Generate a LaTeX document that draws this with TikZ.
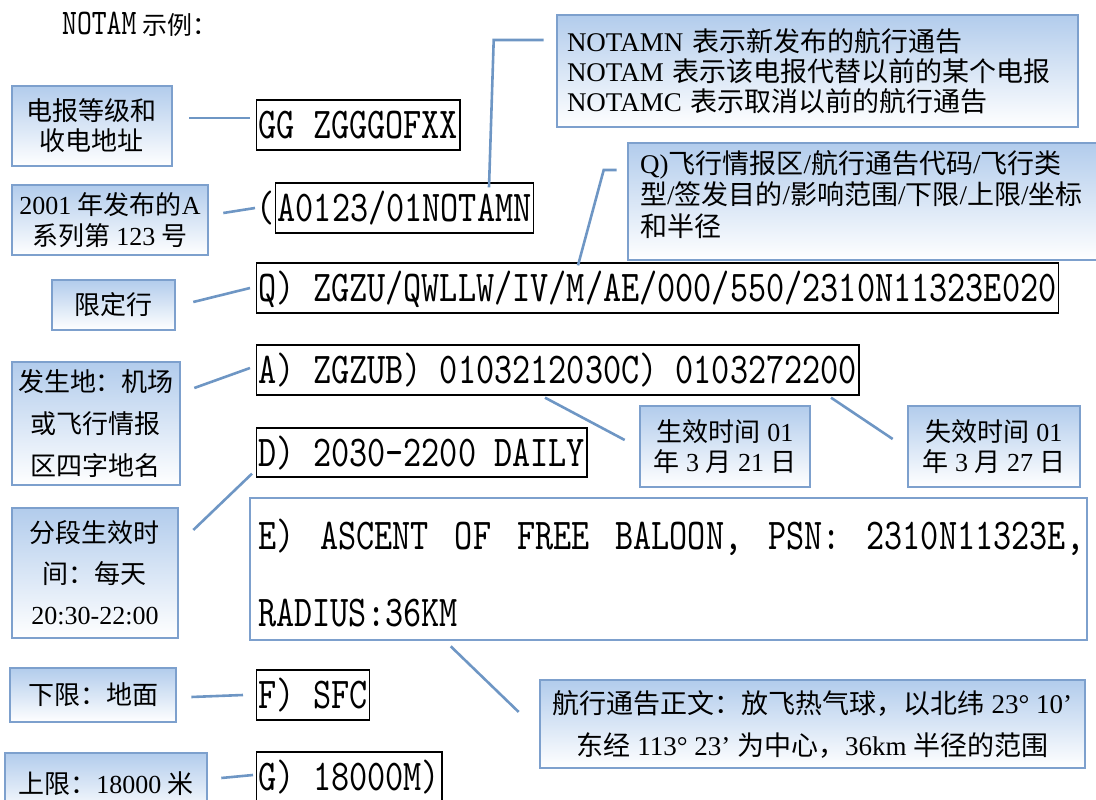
\documentclass[tikz,border=0pt]{standalone}
\usepackage{fontspec}
\setmainfont{Liberation Serif}
\newfontfamily\cjk{Noto Sans CJK SC}
\newfontfamily\codefont{lmmono10-regular}[Extension=.otf,FakeStretch=0.785]
\newcommand\zhs[1]{{\cjk #1}}
\definecolor{boxborder}{RGB}{125,160,205}
\definecolor{gradtop}{RGB}{178,204,236}
\definecolor{connblue}{RGB}{110,150,196}
\begin{document}
\begin{tikzpicture}[x=1pt,y=-1pt,
 bluebox/.style={draw=boxborder, line width=2.6pt, top color=gradtop, bottom color=white, inner sep=0pt, align=center, font=\fontsize{26}{30}\selectfont},
 codebox/.style={draw=black, line width=1.3pt, inner xsep=2pt, inner ysep=0pt, minimum height=50pt, text height=27pt, text depth=0pt, anchor=west, font=\codefont\fontsize{44}{50}\selectfont},
 codetext/.style={inner sep=0pt, text height=27pt, text depth=0pt, anchor=west, font=\codefont\fontsize{44}{50}\selectfont},
 conn/.style={draw=connblue, line width=2.6pt},
]
\useasboundingbox (0,0) rectangle (1096,800);

% title
\node[anchor=west, inner sep=0pt] (title) at (62,24) {{\codefont\fontsize{36}{36}\selectfont NOTAM}\hspace{6pt}{\cjk\fontsize{25}{25}\selectfont 示例：}};

% code boxes
\node[codebox] (gg) at (256,125) {GG ZGGGOFXX};
\node[codebox] (notamn) at (275,208) {A0123/01NOTAMN};
\node[codetext, anchor=east] (paren) at (notamn.west) {(};
\node[codebox] (q) at (256,288) {Q) ZGZU/QWLLW/IV/M/AE/000/550/2310N11323E020};
\node[codebox] (aline) at (256,370) {A) ZGZUB) 0103212030C) 0103272200};
\node[codebox, minimum height=49pt] (d) at (256,452.5) {D) 2030-2200 DAILY};
\node[draw=boxborder, line width=2.6pt, minimum width=837pt, minimum height=142pt, inner sep=0pt] (ebox) at (668.5,569) {};
\node[codetext] (e1) at (258,536) {\makebox[826pt][l]{E)\hfill ASCENT\hfill OF\hfill FREE\hfill BALOON,\hfill PSN:\hfill 2310N11323E,}};
\node[codetext] (e2) at (258,613) {RADIUS:36KM};
\node[codebox] (f) at (256,695) {F) SFC};
\node[codebox] (g) at (256,777) {G) 18000M)};

% left boxes
\node[bluebox, minimum width=160pt, minimum height=80pt] (b1) at (92,126) {\zhs{电报等级和}\\\zhs{收电地址}};
\node[bluebox, minimum width=196pt, minimum height=70pt, font=\fontsize{26}{31}\selectfont] (b2) at (110,220) {2001 \zhs{年发布的}A\\\zhs{系列第} 123 \zhs{号}};
\node[bluebox, minimum width=123pt, minimum height=50pt] (b3) at (113.5,305) {\zhs{限定行}};
\node[bluebox, minimum width=168pt, minimum height=123pt, font=\fontsize{26}{42}\selectfont] (b4) at (96,423.5) {\zhs{发生地：机场}\\\zhs{或飞行情报}\\\zhs{区四字地名}};
\node[bluebox, minimum width=166pt, minimum height=130pt, font=\fontsize{26}{41}\selectfont] (b5) at (95,573) {\zhs{分段生效时}\\\zhs{间：每天}\\20:30-22:00};
\node[bluebox, minimum width=166pt, minimum height=54pt] (b6) at (93,695) {\zhs{下限：地面}};
\node[bluebox, minimum width=202pt, minimum height=62pt] (b7) at (106,784) {\zhs{上限：}18000 \zhs{米}};

% right boxes
\node[bluebox, minimum width=521pt, minimum height=112pt, text width=501pt, align=left, font=\fontsize{27}{30}\selectfont] (b8) at (817.5,71) {NOTAMN \zhs{表示新发布的航行通告}\\NOTAM \zhs{表示该电报代替以前的某个电报}\\NOTAMC \zhs{表示取消以前的航行通告}};
\node[bluebox, minimum width=482pt, minimum height=117pt] (b9) at (869,201.5) {};
\node[anchor=west, align=left, inner sep=0pt, font=\fontsize{27}{31.5}\selectfont] (t9) at (640,194.5) {Q)\zhs{飞行情报区}/\zhs{航行通告代码}/\zhs{飞行类}\\\zhs{型}/\zhs{签发目的}/\zhs{影响范围}/\zhs{下限}/\zhs{上限}/\zhs{坐标}\\\zhs{和半径}};
\node[bluebox, minimum width=170pt, minimum height=81pt] (b10) at (725,446.5) {\zhs{生效时间} 01\\\zhs{年} 3 \zhs{月} 21 \zhs{日}};
\node[bluebox, minimum width=172pt, minimum height=81pt] (b11) at (994,446.5) {\zhs{失效时间} 01\\\zhs{年} 3 \zhs{月} 27 \zhs{日}};
\node[bluebox, minimum width=545pt, minimum height=88pt, font=\fontsize{27}{42}\selectfont] (b12) at (812.5,724) {\zhs{航行通告正文：放飞热气球，以北纬} 23° 10’\\\zhs{东经} 113° 23’ \zhs{为中心，}36km \zhs{半径的范围}};

% connectors
\draw[conn] ([xshift=16pt,yshift=8pt]b1.east) -- ([xshift=-6pt,yshift=7pt]gg.west);
\draw[conn] ([xshift=14pt,yshift=7pt]b2.east) -- ([xshift=-20pt]notamn.west);
\draw[conn] ([xshift=17pt,yshift=3pt]b3.east) -- ([xshift=-6pt]q.west);
\draw[conn] ([xshift=13pt,yshift=35.5pt]b4.east) -- ([xshift=-6pt,yshift=2pt]aline.west);
\draw[conn] ([xshift=14pt,yshift=43pt]b5.east) -- ([xshift=-4pt,yshift=4pt]d.south west);
\draw[conn] ([xshift=14pt,yshift=-2pt]b6.east) -- ([xshift=-13pt]f.west);
\draw[conn] ([xshift=13pt,yshift=6pt]b7.east) -- ([xshift=-3pt,yshift=2pt]g.west);
\draw[conn] ([xshift=214pt,yshift=-5pt]notamn.north west) -- ([xshift=-62pt,yshift=31pt]b8.west) -- ([xshift=-12pt,yshift=31pt]b8.west);
\draw[conn] ([xshift=322pt,yshift=-3pt]q.north west) -- ([xshift=-23pt,yshift=31.5pt]b9.west) -- ([xshift=-10pt,yshift=31.5pt]b9.west);
\draw[conn] ([xshift=289pt,yshift=-2pt]aline.south west) -- ([xshift=-14pt,yshift=6.5pt]b10.west);
\draw[conn] ([xshift=575pt,yshift=-2pt]aline.south west) -- ([xshift=-14pt,yshift=7.5pt]b11.west);
\draw[conn] ([xshift=202pt,yshift=-5pt]ebox.south west) -- ([xshift=-20pt,yshift=12pt]b12.west);
\end{tikzpicture}
\end{document}
